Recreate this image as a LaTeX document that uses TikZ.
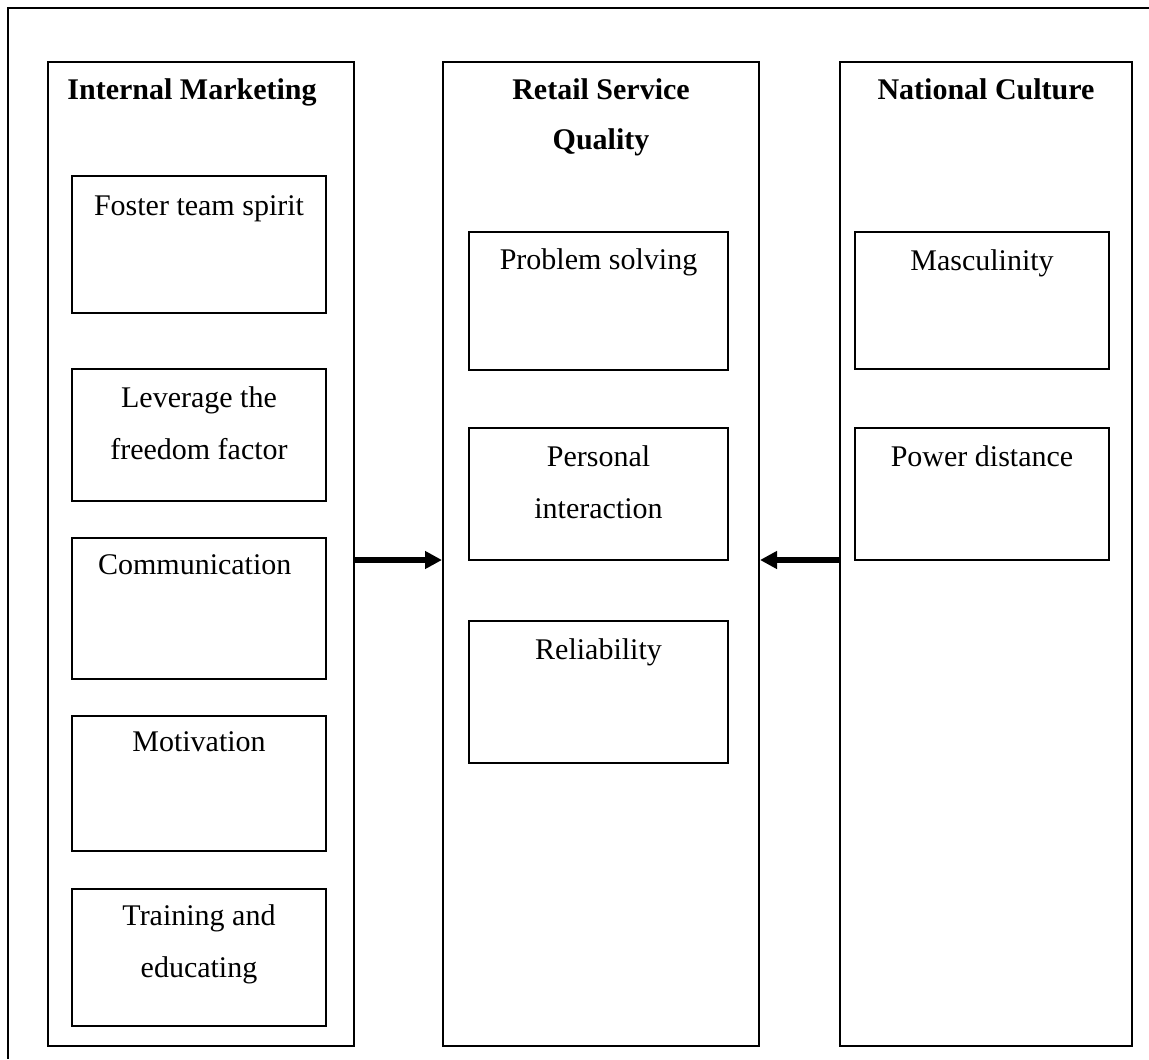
\documentclass[tikz,border=0pt]{standalone}
\usepackage{fontspec}
\setmainfont{Liberation Serif}
\usetikzlibrary{arrows.meta,positioning}

\begin{document}
\begin{tikzpicture}[
  x=0.5pt, y=-0.5pt,
  font=\fontsize{15}{26}\selectfont,
  outerframe/.style={line width=1pt},
  column/.style={rectangle, draw, line width=1pt, minimum height=492pt},
  item/.style={rectangle, draw, line width=1pt},
  heading/.style={font=\fontsize{15}{25}\selectfont\bfseries, align=center, anchor=base},
  txt/.style={align=center, anchor=base},
  arrow/.style={-{Triangle[length=8.5pt,width=8.5pt]}, line width=3pt}
]
  \useasboundingbox (0,0) rectangle (1149,1059);
  \draw[outerframe] (1149,8) -- (8,8) -- (8,1059);

  \node[column, minimum width=153pt] (im) at (201,554) {};
  \node[column, minimum width=158pt] (rsq) at (601,554) {};
  \node[column, minimum width=146pt] (nc) at (986,554) {};

  \node[heading] (imt) at (192,100) {Internal Marketing};
  \node[heading] (rsqt) at (601,150) {Retail Service\\Quality};
  \node[heading] (nct) at (986,100) {National Culture};

  \node[item, minimum width=127pt, minimum height=68.5pt] (team) at (199,244.5) {};
  \node[item, minimum width=127pt, minimum height=66pt] (free) at (199,435) {};
  \node[item, minimum width=127pt, minimum height=70.5pt] (comm) at (199,608.5) {};
  \node[item, minimum width=127pt, minimum height=67.5pt] (moti) at (199,783.5) {};
  \node[item, minimum width=127pt, minimum height=68.5pt] (train) at (199,957.5) {};

  \node[item, minimum width=129.5pt, minimum height=69pt] (prob) at (598.5,301) {};
  \node[item, minimum width=129.5pt, minimum height=66pt] (pers) at (598.5,494) {};
  \node[item, minimum width=129.5pt, minimum height=71pt] (reli) at (598.5,692) {};

  \node[item, minimum width=127pt, minimum height=68.5pt] (masc) at (982,300.5) {};
  \node[item, minimum width=127pt, minimum height=66pt] (powd) at (982,494) {};

  \node[txt] (teamt) at ([yshift=-20pt]team.north) {Foster team spirit};
  \node[txt] (freet) at ([yshift=-45.5pt]free.north) {Leverage the\\freedom factor};
  \node[txt, anchor=base west] (commt) at ([xshift=10pt,yshift=-18.5pt]comm.north west) {Communication};
  \node[txt] (motit) at ([yshift=-18pt]moti.north) {Motivation};
  \node[txt] (traint) at ([yshift=-44.5pt]train.north) {Training and\\educating};

  \node[txt] (probt) at ([yshift=-19pt]prob.north) {Problem solving};
  \node[txt] (perst) at ([yshift=-45.5pt]pers.north) {Personal\\interaction};
  \node[txt] (relit) at ([yshift=-19.5pt]reli.north) {Reliability};

  \node[txt] (masct) at ([yshift=-19.5pt]masc.north) {Masculinity};
  \node[txt] (powdt) at ([yshift=-19.5pt]powd.north) {Power distance};

  \draw[arrow] ([yshift=-3pt]im.east) -- ([yshift=-3pt]rsq.west);
  \draw[arrow] ([yshift=-3pt]nc.west) -- ([yshift=-3pt]rsq.east);
\end{tikzpicture}
\end{document}
